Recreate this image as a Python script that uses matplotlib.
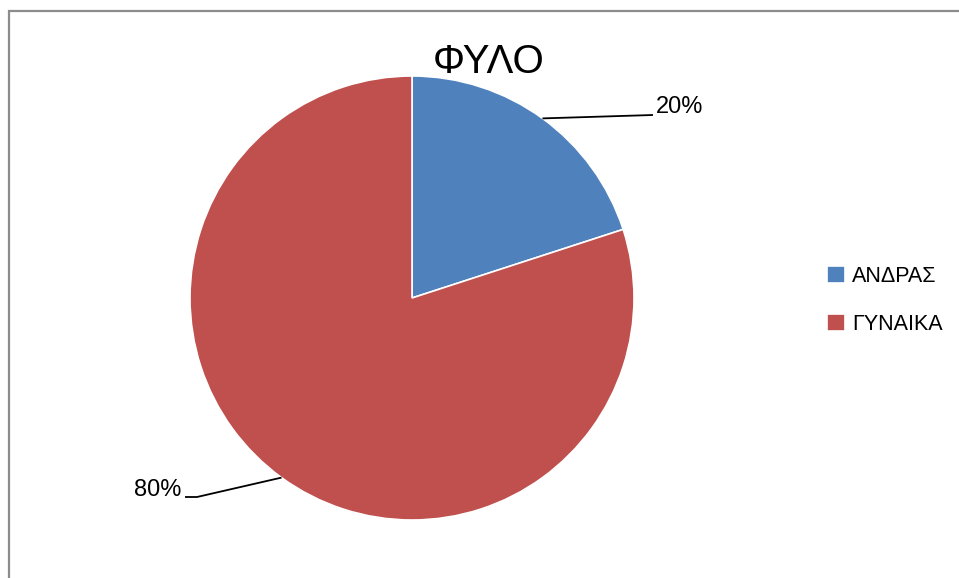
import numpy as np
import matplotlib
matplotlib.use('Agg')
import matplotlib.pyplot as plt
from matplotlib.patches import Rectangle

# data
labels = ['ΑΝΔΡΑΣ', 'ΓΥΝΑΙΚΑ']
values = [20, 80]
colors = ['#4F81BD', '#C0504D']
title = 'ΦΥΛΟ'

plt.rcParams['font.family'] = ['Liberation Sans', 'DejaVu Sans']

W, H = 959, 578
fig = plt.figure(figsize=(W / 100, H / 100), dpi=100)
ax = fig.add_axes([0, 0, 1, 1])

# outer frame (runs off the right and bottom edge)
ax.add_patch(Rectangle((9, -10), W + 20, H - 11 + 10, fill=False,
                       edgecolor='#8c8c8c', lw=1.6))

cx, cy, r = 412, H - 298, 222
wedges, _ = ax.pie(values, colors=colors, startangle=90, counterclock=False,
                   center=(cx, cy), radius=r, frame=True,
                   wedgeprops=dict(edgecolor='white', linewidth=1.2))
ax.set_xlim(0, W)
ax.set_ylim(0, H)
ax.set_aspect('equal')
ax.axis('off')

# leader lines and percentage labels
total = float(sum(values))
start = 90.0
for i, v in enumerate(values):
    ang = start - 360 * v / total / 2
    start -= 360 * v / total
    a = np.deg2rad(ang)
    x0, y0 = cx + r * np.cos(a), cy + r * np.sin(a)
    pct = '%d%%' % round(100 * v / total)
    if np.cos(a) > 0:
        ax.plot([x0, 653], [y0, H - 115], color='black', lw=1.3, solid_capstyle='butt')
        ax.text(656, H - 107, pct, fontsize=17, ha='left', va='center')
    else:
        ax.plot([x0, 197, 185], [y0, H - 497, H - 497], color='black', lw=1.3,
                solid_capstyle='butt')
        ax.text(181, H - 490, pct, fontsize=17, ha='right', va='center')

ax.text(489, H - 62, title, fontsize=29, ha='center', va='center')

leg = ax.legend(wedges, labels, loc='upper left', bbox_to_anchor=(818 / W, 1 - 257 / H),
                frameon=False, fontsize=15.5, handlelength=0.85, handleheight=0.85,
                handletextpad=0.35, labelspacing=1.25, borderaxespad=0)

fig.savefig('out.png', dpi=100)
